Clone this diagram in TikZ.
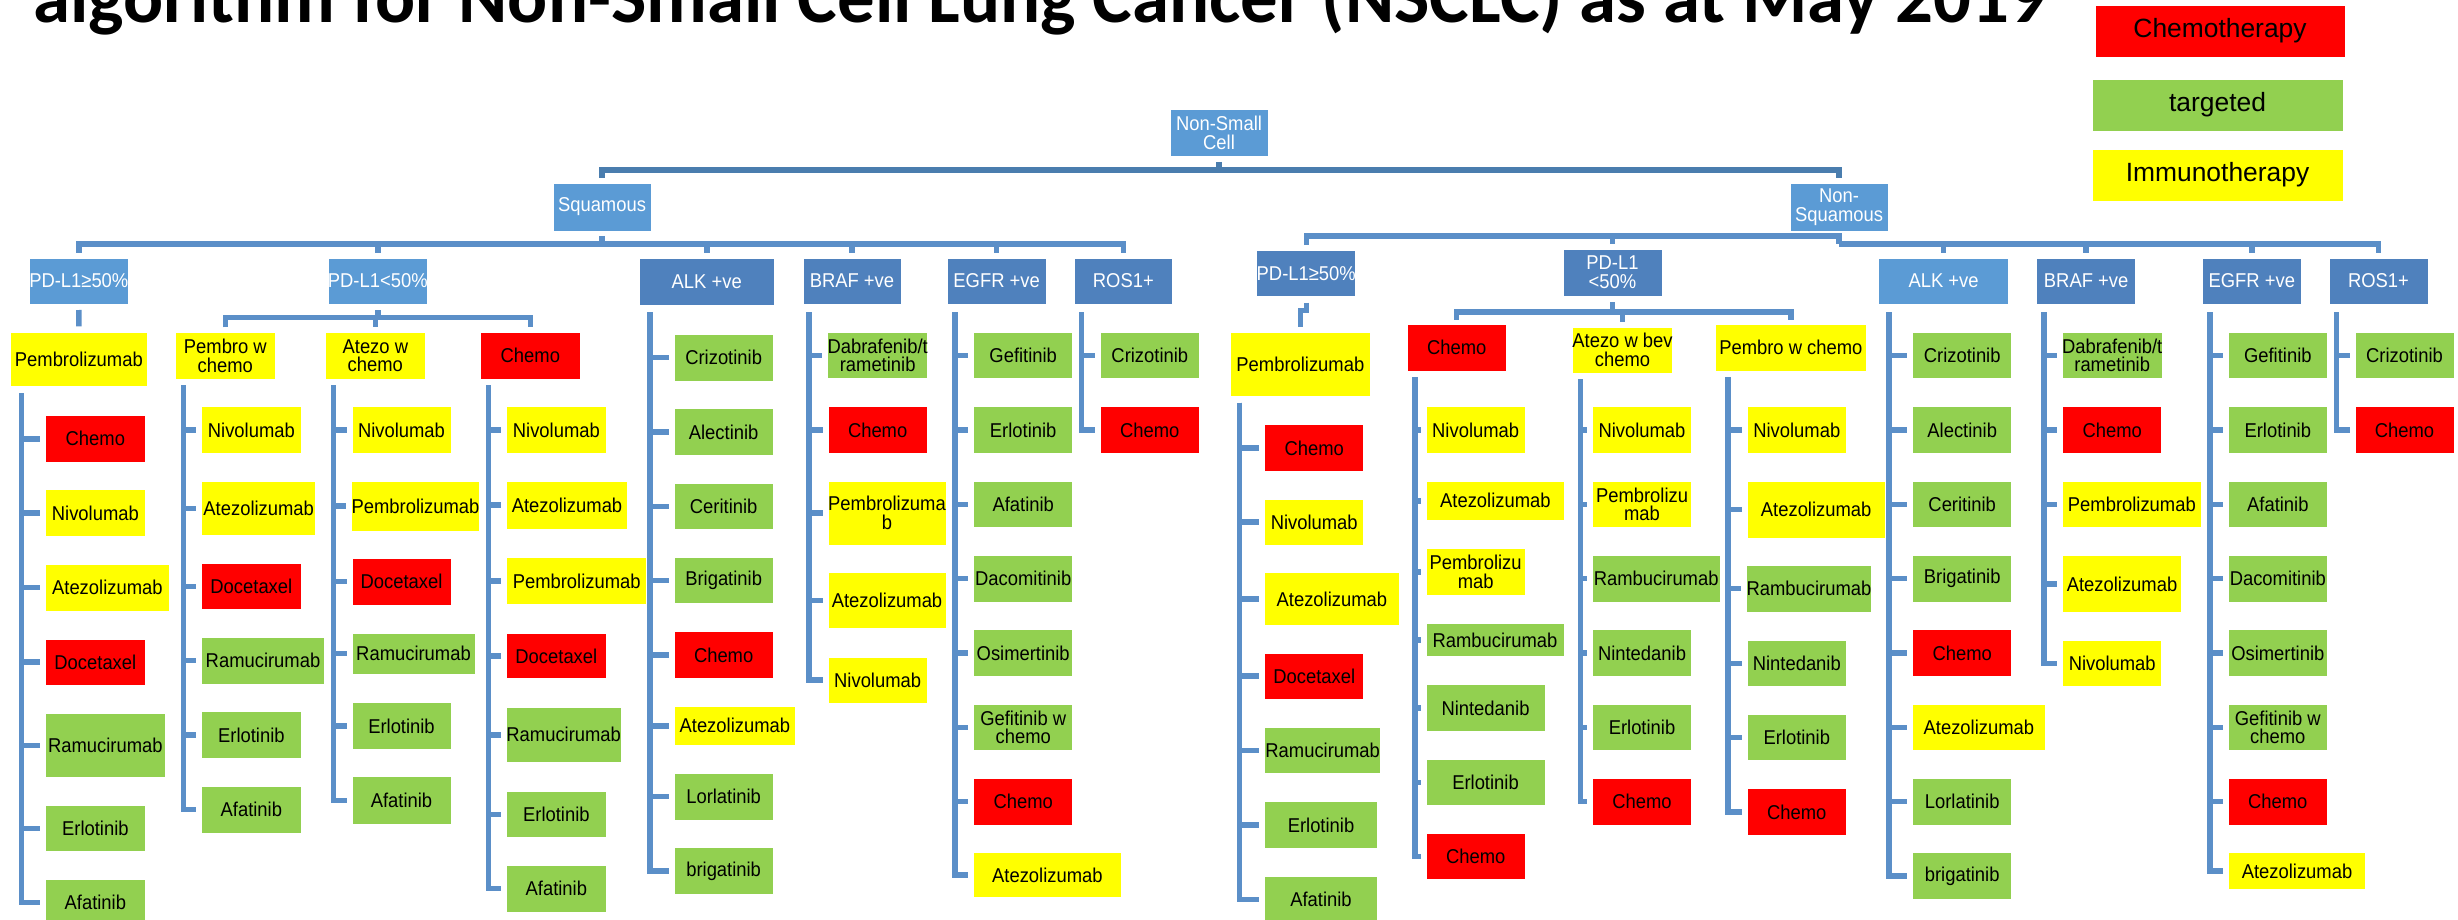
\documentclass[tikz,border=0pt]{standalone}
\usepackage{fontspec}
\setmainfont{Liberation Sans}
\newfontfamily\boxfont{Liberation Sans}[FakeStretch=0.92]
\newfontfamily\titlefont{Carlito}
\usepackage{graphicx}
\definecolor{cred}{HTML}{FF0000}
\definecolor{cgreen}{HTML}{92D050}
\definecolor{cyellow}{HTML}{FFFF00}
\definecolor{clb}{HTML}{5B9BD5}
\definecolor{cdb}{HTML}{4F81BD}
\definecolor{cline}{HTML}{5B8FC8}
\definecolor{ctop}{HTML}{4A7DAE}
\tikzset{
  box/.style={inner sep=0pt, outer sep=0pt, align=center, font=\boxfont\fontsize{20}{18.8}\selectfont, text=black, draw=white, line width=0.8pt},
  hdr/.style={text=white},
  lgd/.style={font=\fontsize{26.4}{28}\selectfont},
  conn/.style={draw=cline, line width=5.5pt},
  topconn/.style={draw=ctop, line width=5.5pt},
}
\newcommand{\bx}[8][]{%
  \pgfmathsetmacro{\mybw}{#6-#4}%
  \pgfmathsetmacro{\mybh}{#7-#5}%
  \pgfmathsetmacro{\mycx}{(#4+#6)/2}%
  \pgfmathsetmacro{\mycy}{(#5+#7)/2}%
  \node[box, fill=#3, minimum width=\mybw pt, minimum height=\mybh pt, #1] (#2) at (\mycx,\mycy) {#8};}
\newcommand{\li}[8]{%
  \bx{#1}{#2}{#3}{#4}{#5}{#6}{#7}%
  \draw[conn] (#8) |- ([xshift=-5.5pt]#1.west);}
\begin{document}
\begin{tikzpicture}[x=1pt,y=-1pt]
\useasboundingbox (0,0) rectangle (2458,920);
\clip (0,0) rectangle (2458,920);
% title
\node[anchor=base west, inner sep=0pt] (title) at (33.3,22.7) {\resizebox{2013pt}{!}{\titlefont\bfseries algorithm for Non-Small Cell Lung Cancer (NSCLC) as at May 2019}};
% legend
\bx[lgd]{lgA}{cred}{2095}{5}{2345}{57}{Chemotherapy}
\bx[lgd]{lgB}{cgreen}{2092}{79}{2343}{131}{targeted}
\bx[lgd]{lgC}{cyellow}{2092}{149}{2343}{201}{Immunotherapy}
% headers
\bx[hdr]{root}{clb}{1170}{109}{1268}{156}{Non-Small\\Cell}
\bx[hdr]{Sq}{clb}{553}{183}{651}{231}{Squamous}
\bx[hdr]{NS}{clb}{1790}{183}{1888}{231}{Non-\\Squamous}
\bx[hdr]{PDa}{clb}{29.3}{258}{128.3}{304}{PD-L1≥50\%}
\bx[hdr]{PDb}{clb}{328.3}{258}{427.3}{304}{PD-L1<50\%}
\bx[hdr]{ALK}{cdb}{639.3}{258}{774.2}{305}{ALK +ve}
\bx[hdr]{BRAF}{cdb}{803}{258}{901}{304}{BRAF +ve}
\bx[hdr]{EGFR}{cdb}{947.3}{258}{1046}{304}{EGFR +ve}
\bx[hdr]{ROS}{cdb}{1074}{258}{1172.7}{304}{ROS1+}
\bx[hdr]{NPDa}{cdb}{1256.8}{250}{1355.7}{296.7}{PD-L1≥50\%}
\bx[hdr]{NPDb}{cdb}{1563}{249}{1662}{296}{PD-L1\\<50\%}
\bx[hdr]{NALK}{clb}{1878.4}{258}{2008.8}{304}{ALK +ve}
\bx[hdr]{NBRAF}{cdb}{2036.5}{258}{2135.7}{304}{BRAF +ve}
\bx[hdr]{NEGFR}{cdb}{2202}{258}{2301.6}{304}{EGFR +ve}
\bx[hdr]{NROS}{cdb}{2329}{258}{2428}{304}{ROS1+}
% level 3
\bx{Pemb1}{cyellow}{10}{332.3}{147.7}{386.7}{Pembrolizumab}
\bx{PwC}{cyellow}{175.7}{332.3}{275}{379}{Pembro w\\chemo}
\bx{AwC}{cyellow}{325.7}{332.3}{425}{379}{Atezo w\\chemo}
\bx{Ch1}{cred}{480.7}{332.3}{580}{379}{Chemo}
\bx{NPemb}{cyellow}{1230}{332.4}{1370.7}{396}{Pembrolizumab}
\bx{NCh}{cred}{1407.3}{324.5}{1506}{371.2}{Chemo}
\bx{NAwb}{cyellow}{1573.3}{327}{1671.7}{373.5}{Atezo w bev\\chemo}
\bx{NPwC}{cyellow}{1715}{324.5}{1866.7}{371.2}{Pembro w chemo}
% top connectors
\coordinate (b170) at (0,170);
\coordinate (b244) at (0,244);
\coordinate (b236) at (0,236);
\coordinate (b317) at (0,317.5);
\coordinate (b312) at (0,312);
\draw[topconn, shorten <=6pt] (root.south) -- (root.south |- b170);
\draw[topconn, shorten <=5pt, shorten >=5pt] (Sq.north) |- (root.south |- b170) -| (NS.north);
\draw[conn, shorten <=5pt] (Sq.south) -- (Sq.south |- b244);
\draw[conn, shorten <=5pt, shorten >=5pt] (PDa.north) |- (ROS.north |- b244) -- (ROS.north);
\foreach \n in {PDb,ALK,BRAF,EGFR} \draw[conn, shorten >=5pt] (\n.north |- b244) -- (\n.north);
\draw[conn, shorten <=2.5pt] (NS.south) -- (NS.south |- b244);
\draw[conn, shorten <=5pt] (NPDa.north) |- (NS.south |- b236);
\draw[conn, shorten >=5pt] (NPDb.north |- b236) -- (NPDb.north);
\draw[conn, shorten >=5pt] (NS.south |- b244) -| (NROS.north);
\foreach \n in {NALK,NBRAF,NEGFR} \draw[conn, shorten >=5pt] (\n.north |- b244) -- (\n.north);
\draw[conn, shorten <=6pt, shorten >=6pt] (PDa.south) -- (Pemb1.north);
\draw[conn, shorten <=6pt] (PDb.south) -- (PDb.south |- b317);
\draw[conn, shorten <=5pt, shorten >=5pt] (PwC.north) |- (Ch1.north |- b317) -- (Ch1.north);
\draw[conn, shorten >=5pt] (AwC.north |- b317) -- (AwC.north);
\draw[conn, shorten <=6pt] (NPDb.south) -- (NPDb.south |- b312);
\draw[conn, shorten <=5pt, shorten >=5pt] (NCh.north) |- (NPwC.north |- b312) -- (NPwC.north);
\draw[conn, shorten >=5pt] (NAwb.north |- b312) -- (NAwb.north);
\draw[conn, shorten <=6pt, shorten >=5pt] (NPDa.south) -- ++(0,14) -| (NPemb.north);
% spines
\coordinate (sA) at (21.7,393);
\coordinate (sB) at (183.7,385);
\coordinate (sC) at (333.3,385);
\coordinate (sD) at (488.3,385);
\coordinate (sE) at (650,312);
\coordinate (sF) at (809,312);
\coordinate (sG) at (955,312);
\coordinate (sH) at (1081.7,312);
\coordinate (sI) at (1239.3,402.8);
\coordinate (sJ) at (1415,377);
\coordinate (sK) at (1580.7,379);
\coordinate (sL) at (1728,377);
\coordinate (sM) at (1889,312);
\coordinate (sN) at (2044,312);
\coordinate (sO) at (2210,312);
\coordinate (sP) at (2336.7,312);
% column A
\li{a1}{cred}{45.7}{415.5}{145}{462}{Chemo}{sA}
\li{a2}{cyellow}{45.7}{489.8}{145}{536.4}{Nivolumab}{sA}
\li{a3}{cyellow}{45.7}{564}{169}{611}{Atezolizumab}{sA}
\li{a4}{cred}{45.7}{638.9}{145}{685.5}{Docetaxel}{sA}
\li{a5}{cgreen}{45.7}{713}{165}{777.6}{Ramucirumab}{sA}
\li{a6}{cgreen}{45.7}{805}{145}{851.6}{Erlotinib}{sA}
\li{a7}{cgreen}{45.7}{879}{145}{925.6}{Afatinib}{sA}
% column B
\li{b1}{cyellow}{201.7}{406.8}{301}{453.4}{Nivolumab}{sB}
\li{b2}{cyellow}{201.7}{481}{315.7}{535.7}{Atezolizumab}{sB}
\li{b3}{cred}{201.7}{563}{301}{609.6}{Docetaxel}{sB}
\li{b4}{cgreen}{201.7}{637}{324.3}{684}{Ramucirumab}{sB}
\li{b5}{cgreen}{201.7}{711.6}{301}{758.7}{Erlotinib}{sB}
\li{b6}{cgreen}{201.7}{786}{301}{833}{Afatinib}{sB}
% column C
\li{c1}{cyellow}{352}{406.8}{451}{453.4}{Nivolumab}{sC}
\li{c2}{cyellow}{352}{481}{479}{531}{Pembrolizumab}{sC}
\li{c3}{cred}{352}{558}{451}{605}{Docetaxel}{sC}
\li{c4}{cgreen}{352}{633}{475}{674}{Ramucirumab}{sC}
\li{c5}{cgreen}{352}{702.5}{451}{749.6}{Erlotinib}{sC}
\li{c6}{cgreen}{352}{776.8}{451}{823.9}{Afatinib}{sC}
% column D
\li{d1}{cyellow}{506.7}{406.8}{606}{453.4}{Nivolumab}{sD}
\li{d2}{cyellow}{506.7}{481}{627.3}{529}{Atezolizumab}{sD}
\li{d3}{cyellow}{506.7}{557}{646.7}{604.8}{Pembrolizumab}{sD}
\li{d4}{cred}{506.7}{633}{606}{678.8}{Docetaxel}{sD}
\li{d5}{cgreen}{506.7}{707}{620.7}{762.6}{Ramucirumab}{sD}
\li{d6}{cgreen}{506.7}{791}{606}{837.7}{Erlotinib}{sD}
\li{d7}{cgreen}{506.7}{865.4}{606}{912}{Afatinib}{sD}
% column E (ALK, squamous)
\li{e1}{cgreen}{674}{334.4}{773.3}{381}{Crizotinib}{sE}
\li{e2}{cgreen}{674}{408.7}{773.3}{455.4}{Alectinib}{sE}
\li{e3}{cgreen}{674}{483}{773.3}{529.7}{Ceritinib}{sE}
\li{e4}{cgreen}{674}{557}{773.3}{603.7}{Brigatinib}{sE}
\li{e5}{cred}{674}{631.4}{773.3}{678.4}{Chemo}{sE}
\li{e6}{cyellow}{674}{706}{795.7}{745.6}{Atezolizumab}{sE}
\li{e7}{cgreen}{674}{773.3}{773.3}{820}{Lorlatinib}{sE}
\li{e8}{cgreen}{674}{847.6}{773.3}{894.3}{brigatinib}{sE}
% column F (BRAF, squamous)
\li{f1}{cgreen}{828}{332.4}{927.3}{378.3}{Dabrafenib/t\\rametinib}{sF}
\li{f2}{cred}{828}{406.8}{927.3}{453.4}{Chemo}{sF}
\li{f3}{cyellow}{828}{481}{946}{545}{Pembrolizuma\\b}{sF}
\li{f4}{cyellow}{828}{572.8}{946}{628.2}{Atezolizumab}{sF}
\li{f5}{cyellow}{828}{657}{927.3}{703.3}{Nivolumab}{sF}
% column G (EGFR, squamous)
\li{g1}{cgreen}{973.7}{332.4}{1072.7}{378.3}{Gefitinib}{sG}
\li{g2}{cgreen}{973.7}{406.8}{1072.7}{453.4}{Erlotinib}{sG}
\li{g3}{cgreen}{973.7}{481}{1072.7}{527.7}{Afatinib}{sG}
\li{g4}{cgreen}{973.7}{555.4}{1072.7}{602}{Dacomitinib}{sG}
\li{g5}{cgreen}{973.7}{629.8}{1072.7}{676.4}{Osimertinib}{sG}
\li{g6}{cgreen}{973.7}{704}{1072.7}{750.8}{Gefitinib w\\chemo}{sG}
\li{g7}{cred}{973.7}{778.4}{1072.7}{825}{Chemo}{sG}
\li{g8}{cyellow}{973.7}{852.8}{1121}{897}{Atezolizumab}{sG}
% column H (ROS1, squamous)
\li{h1}{cgreen}{1100.3}{332.4}{1199.3}{378.3}{Crizotinib}{sH}
\li{h2}{cred}{1100.3}{406.8}{1199.3}{453.4}{Chemo}{sH}
% column I (Pembrolizumab, non-squamous)
\li{i1}{cred}{1264.7}{424.5}{1363.7}{471.2}{Chemo}{sI}
\li{i2}{cyellow}{1264.7}{498.9}{1363.7}{545}{Nivolumab}{sI}
\li{i3}{cyellow}{1264.7}{572.8}{1399}{625}{Atezolizumab}{sI}
\li{i4}{cred}{1264.7}{653}{1363.7}{699.4}{Docetaxel}{sI}
\li{i5}{cgreen}{1264.7}{727}{1380.7}{773.7}{Ramucirumab}{sI}
\li{i6}{cgreen}{1264.7}{801.4}{1377.3}{848.4}{Erlotinib}{sI}
\li{i7}{cgreen}{1264.7}{876}{1377.3}{922.6}{Afatinib}{sI}
% column J (Chemo, non-squamous)
\li{j1}{cyellow}{1426}{406.8}{1525.3}{453.4}{Nivolumab}{sJ}
\li{j2}{cyellow}{1426}{481}{1564.7}{520.6}{Atezolizumab}{sJ}
\li{j3}{cyellow}{1426}{548.3}{1525.3}{595.4}{Pembrolizu\\mab}{sJ}
\li{j4}{cgreen}{1426}{623.4}{1564}{656.6}{Rambucirumab}{sJ}
\li{j5}{cgreen}{1426}{684.7}{1545}{731}{Nintedanib}{sJ}
\li{j6}{cgreen}{1426}{759.5}{1545}{805.3}{Erlotinib}{sJ}
\li{j7}{cred}{1426}{833.8}{1525.3}{879.6}{Chemo}{sJ}
% column K (Atezo w bev chemo)
\li{k1}{cyellow}{1592.3}{406.8}{1691.7}{453.4}{Nivolumab}{sK}
\li{k2}{cyellow}{1592.3}{481}{1691.7}{527.7}{Pembrolizu\\mab}{sK}
\li{k3}{cgreen}{1592.3}{555.4}{1720}{602}{Rambucirumab}{sK}
\li{k4}{cgreen}{1592.3}{629.8}{1691.7}{676.4}{Nintedanib}{sK}
\li{k5}{cgreen}{1592.3}{704}{1691.7}{750.8}{Erlotinib}{sK}
\li{k6}{cred}{1592.3}{778.4}{1691.7}{825}{Chemo}{sK}
% column L (Pembro w chemo, non-squamous)
\li{l1}{cyellow}{1747.3}{406.8}{1846.3}{453.4}{Nivolumab}{sL}
\li{l2}{cyellow}{1747.3}{481}{1885}{538}{Atezolizumab}{sL}
\li{l3}{cgreen}{1747.3}{565}{1870.7}{612.4}{Rambucirumab}{sL}
\li{l4}{cgreen}{1747.3}{640}{1846.3}{686.7}{Nintedanib}{sL}
\li{l5}{cgreen}{1747.3}{714.4}{1846.3}{760.6}{Erlotinib}{sL}
\li{l6}{cred}{1747.3}{788.7}{1846.3}{835.4}{Chemo}{sL}
% column M (ALK, non-squamous)
\li{m1}{cgreen}{1912.7}{332.4}{2011.7}{378.3}{Crizotinib}{sM}
\li{m2}{cgreen}{1912.7}{406.8}{2011.7}{453.4}{Alectinib}{sM}
\li{m3}{cgreen}{1912.7}{481}{2011.7}{527.7}{Ceritinib}{sM}
\li{m4}{cgreen}{1912.7}{555.4}{2011.7}{602}{Brigatinib}{sM}
\li{m5}{cred}{1912.7}{629.8}{2011.7}{676.4}{Chemo}{sM}
\li{m6}{cyellow}{1912.7}{704}{2045}{750.8}{Atezolizumab}{sM}
\li{m7}{cgreen}{1912.7}{778.4}{2011.7}{825}{Lorlatinib}{sM}
\li{m8}{cgreen}{1912.7}{852.8}{2011.7}{899}{brigatinib}{sM}
% column N (BRAF, non-squamous)
\li{n1}{cgreen}{2062.7}{332.4}{2161.7}{378.3}{Dabrafenib/t\\rametinib}{sN}
\li{n2}{cred}{2062.7}{406.8}{2161.7}{453.4}{Chemo}{sN}
\li{n3}{cyellow}{2062.7}{481}{2201}{527.7}{Pembrolizumab}{sN}
\li{n4}{cyellow}{2062.7}{555.4}{2181.3}{612.4}{Atezolizumab}{sN}
\li{n5}{cyellow}{2062.7}{640}{2161.7}{686.7}{Nivolumab}{sN}
% column O (EGFR, non-squamous)
\li{o1}{cgreen}{2228.3}{332.4}{2327.3}{378.3}{Gefitinib}{sO}
\li{o2}{cgreen}{2228.3}{406.8}{2327.3}{453.4}{Erlotinib}{sO}
\li{o3}{cgreen}{2228.3}{481}{2327.3}{527.7}{Afatinib}{sO}
\li{o4}{cgreen}{2228.3}{555.4}{2327.3}{602}{Dacomitinib}{sO}
\li{o5}{cgreen}{2228.3}{629.8}{2327.3}{676.4}{Osimertinib}{sO}
\li{o6}{cgreen}{2228.3}{704}{2327.3}{750.8}{Gefitinib w\\chemo}{sO}
\li{o7}{cred}{2228.3}{778.4}{2327.3}{825}{Chemo}{sO}
\li{o8}{cyellow}{2228.3}{852.8}{2365.7}{889}{Atezolizumab}{sO}
% column P (ROS1, non-squamous)
\li{p1}{cgreen}{2355}{332.4}{2454}{378.3}{Crizotinib}{sP}
\li{p2}{cred}{2355}{406.8}{2454}{453.4}{Chemo}{sP}
\end{tikzpicture}
\end{document}
